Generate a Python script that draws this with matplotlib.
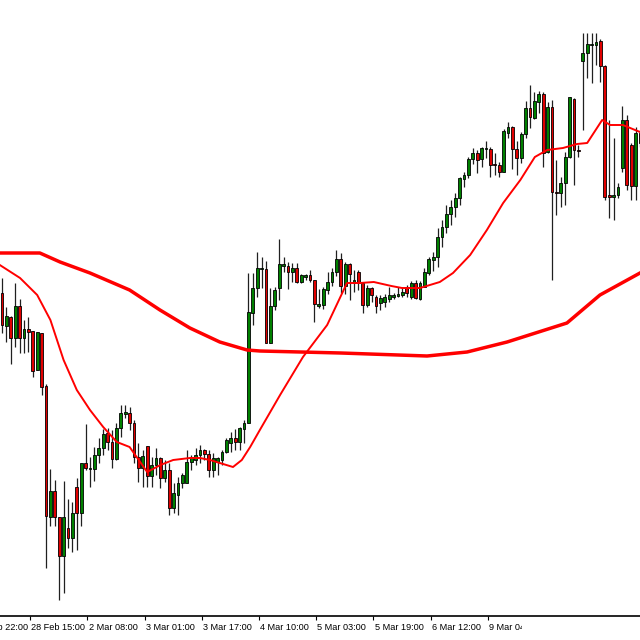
import numpy as np
import matplotlib
matplotlib.use("Agg")
import matplotlib.pyplot as plt
from matplotlib.patches import Rectangle
from matplotlib.transforms import Bbox

# candle levels (screen units, larger = lower price)
opens = [293, 326, 317, 338, 306, 338, 329, 331, 370, 333, 386, 517, 491, 517, 556, 528, 538, 487, 513, 463,
         469, 469, 455, 448, 433, 442, 459, 428, 414, 413, 423, 457, 468, 446, 476, 465, 458, 478, 470, 508,
         495, 483, 483, 462, 460, 455, 450, 454, 470, 462, 460, 452, 443, 438, 442, 429, 423, 313, 288, 269,
         269, 343, 306, 288, 266, 266, 272, 268, 282, 277, 275, 280, 306, 305, 290, 282, 272, 259, 286, 264,
         283, 272, 283, 305, 288, 297, 303, 302, 299, 297, 296, 295, 287, 297, 283, 299, 287, 273, 260, 257,
         237, 227, 214, 207, 198, 179, 175, 159, 153, 159, 149, 149, 164, 165, 172, 133, 127, 149, 158, 134,
         108, 118, 102, 94, 152, 107, 192, 193, 183, 157, 99, 150, 61, 53, 45, 45, 41, 66, 195, 197,
         195, 168, 120, 145, 186, 133]
closes = [325, 316, 338, 306, 338, 329, 332, 371, 332, 387, 516, 491, 517, 556, 517, 538, 513, 513, 463, 468,
          468, 455, 448, 434, 442, 459, 428, 413, 412, 423, 457, 468, 456, 476, 465, 458, 478, 470, 508, 493,
          483, 475, 462, 457, 455, 450, 454, 470, 458, 458, 452, 440, 438, 442, 428, 423, 312, 288, 268, 268,
          343, 306, 290, 264, 264, 272, 268, 282, 275, 275, 280, 304, 304, 289, 282, 272, 259, 286, 264, 274,
          280, 283, 305, 288, 295, 306, 298, 297, 295, 295, 294, 292, 293, 283, 298, 283, 272, 259, 257, 237,
          227, 214, 207, 198, 178, 175, 159, 153, 160, 148, 148, 165, 165, 172, 131, 127, 149, 158, 134, 108,
          117, 101, 94, 153, 107, 192, 193, 183, 157, 97, 150, 151, 53, 44, 44, 42, 66, 197, 197, 195,
          187, 120, 185, 186, 133, 143]
highs = [278, 307, 316, 283, 299, 320, 317, 331, 332, 333, 384, 469, 480, 517, 481, 499, 502, 478, 463, 424,
         457, 447, 438, 429, 428, 430, 423, 405, 405, 407, 420, 443, 450, 446, 457, 448, 457, 460, 463, 483,
         477, 473, 450, 455, 448, 445, 449, 450, 453, 457, 450, 438, 432, 429, 427, 420, 273, 273, 252, 257,
         261, 288, 287, 239, 257, 262, 263, 263, 274, 274, 270, 280, 289, 287, 272, 268, 250, 253, 262, 263,
         270, 270, 282, 285, 287, 295, 295, 294, 287, 293, 287, 287, 285, 281, 280, 281, 268, 257, 252, 228,
         220, 205, 200, 193, 177, 172, 157, 148, 150, 147, 141, 147, 153, 162, 129, 122, 126, 141, 132, 101,
         85, 92, 91, 92, 102, 100, 160, 177, 152, 97, 98, 145, 33, 33, 33, 33, 39, 65, 120, 138,
         183, 106, 115, 143, 127, 130]
lows = [333, 342, 364, 347, 353, 353, 352, 377, 370, 395, 568, 526, 526, 600, 593, 548, 552, 550, 526, 470,
        487, 481, 463, 455, 450, 468, 460, 437, 418, 430, 463, 482, 487, 487, 487, 475, 488, 482, 515, 513,
        515, 488, 483, 470, 465, 463, 460, 477, 477, 475, 465, 453, 452, 450, 450, 443, 423, 325, 297, 288,
        343, 343, 310, 300, 272, 289, 282, 283, 283, 280, 282, 322, 308, 309, 294, 286, 276, 293, 294, 300,
        292, 290, 313, 307, 302, 313, 310, 307, 302, 299, 297, 297, 297, 299, 299, 300, 287, 275, 271, 267,
        247, 233, 225, 217, 205, 187, 178, 164, 173, 167, 158, 177, 175, 177, 172, 138, 169, 175, 163, 138,
        128, 119, 113, 167, 153, 280, 215, 207, 205, 158, 185, 157, 130, 78, 83, 65, 82, 200, 218, 220,
        198, 172, 190, 200, 200, 147]

# moving averages: (bar position, level)
fast_x = [-0.5, 4.1, 8, 11, 14, 17, 20, 23, 26.1, 29, 33, 36, 38.9, 42.7, 45, 47.3, 49.5, 52.5, 54.5, 56.4,
          58.6, 63.2, 68.4, 73.9, 78.4, 81.4, 84.5, 88.5, 90.9, 95, 99.5, 102.5, 106.4, 110.2, 113.9, 117.8, 121.1,
          123.9, 127.5, 130.7, 133, 136.4, 138.2, 141.1, 145]
fast_y = [265, 278, 295, 320, 360, 390, 410, 427, 442, 447, 472, 465, 460, 458, 458, 460, 463, 467, 460, 447,
          430, 395, 357, 325, 283, 283, 282, 286, 288, 288, 282, 273, 255, 230, 203, 180, 157, 150, 148, 144,
          143, 120, 125, 125, 132]
slow_x = [-0.5, 8.6, 13.2, 20, 29, 35.9, 42.7, 49.5, 55.7, 58.6, 77, 96.6, 105.7, 114.8, 128.4, 135.9, 145]
slow_y = [253, 253, 262, 273, 290, 310, 328, 342, 350, 351, 353, 356, 352, 342, 323, 295, 273]

tick_pos = [-6.6, 6.4, 19.4, 32.4, 45.4, 58.4, 71.4, 84.4, 97.4, 110.4]
tick_labels = ["27 Feb 22:00", "28 Feb 15:00", "2 Mar 08:00", "3 Mar 01:00", "3 Mar 17:00",
               "4 Mar 10:00", "5 Mar 03:00", "5 Mar 19:00", "6 Mar 12:00", "9 Mar 04:00"]

fig = plt.figure(figsize=(6.4, 6.4), dpi=100)
ax = fig.add_axes([0, 24 / 640, 1, 616 / 640])

for i, (o, c, h, l) in enumerate(zip(opens, closes, highs, lows)):
    ax.plot([i, i], [h, l], color='#202020', lw=0.9, zorder=2, solid_capstyle='butt')
    col = '#008000' if c < o else '#e00000'
    ax.add_patch(Rectangle((i - 0.33, min(o, c)), 0.66, max(abs(o - c), 0.8),
                           facecolor=col, edgecolor='black', lw=0.6, zorder=3))

ax.plot(slow_x, slow_y, color='#ff0000', lw=2.5, zorder=4)
ax.plot(fast_x, fast_y, color='#ff0000', lw=1.4, zorder=4)

for s in ['top', 'right', 'left']:
    ax.spines[s].set_visible(False)
ax.spines['bottom'].set_linewidth(1.2)
ax.set_yticks([])
ax.set_xticks(tick_pos)
ax.set_xticklabels([])
ax.tick_params(axis='x', length=3, width=0.8, color='black')
ax.set_xlim(-2 / 4.4, 638 / 4.4)
ax.set_ylim(616, 0)

clip = Bbox.from_extents(0, 0, 522, 24)
for p, lab in zip(tick_pos, tick_labels):
    t = ax.text(p + 0.3, 627, lab, fontsize=6.6, family='Liberation Sans',
                ha='left', va='center', clip_on=True)
    t.set_clip_box(clip)

fig.savefig("out.png", dpi=100)
